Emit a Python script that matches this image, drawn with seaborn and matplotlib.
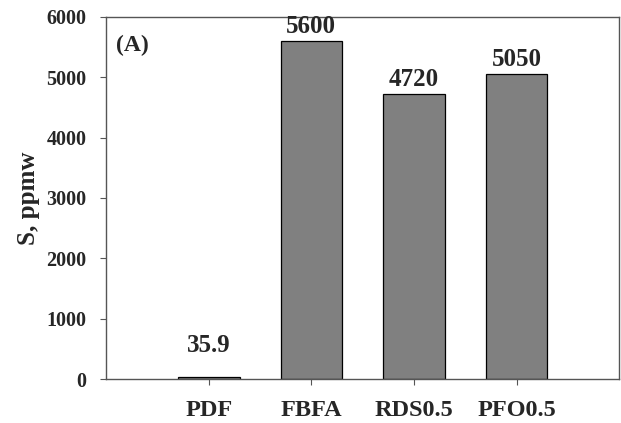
import seaborn as sns
import pandas as pd
import matplotlib.pyplot as plt

# S content of the fuels
samples = ["PDF", "FBFA", "RDS0.5", "PFO0.5"]
sulfur = [35.9, 5600, 4720, 5050]
value_text = ["35.9", "5600", "4720", "5050"]

df = pd.DataFrame({"sample": samples, "S": sulfur})

sns.set_style("ticks")
plt.rcParams["font.family"] = ["Liberation Serif", "DejaVu Serif"]
plt.rcParams["font.weight"] = "bold"

fig = plt.figure(figsize=(6.21, 4.23), dpi=100)
ax = fig.add_axes([0.171, 0.104, 0.826, 0.856])

sns.barplot(df, x="sample", y="S", order=samples, color="#808080",
            saturation=1, width=0.6, edgecolor="black", linewidth=0.9, ax=ax)

# big bars: label just above; the tiny PDF bar gets its label lifted higher
big = [t if v > 1000 else "" for t, v in zip(value_text, sulfur)]
small = [t if v <= 1000 else "" for t, v in zip(value_text, sulfur)]
ax.bar_label(ax.containers[0], labels=big, padding=2,
             fontsize=18, fontweight="bold")
ax.bar_label(ax.containers[0], labels=small, padding=14,
             fontsize=18, fontweight="bold")

ax.set_xlim(-1, 4)
ax.set_ylim(0, 6000)
ax.set_yticks(range(0, 6001, 1000))
ax.set_xlabel("")
ax.set_ylabel("S, ppmw", fontsize=18, fontweight="bold", labelpad=5)
ax.tick_params(axis="y", labelsize=14.5, length=4, pad=10, color="#555555")
ax.tick_params(axis="x", labelsize=17.5, length=4, pad=11, color="#555555")
for lab in ax.get_xticklabels() + ax.get_yticklabels():
    lab.set_fontweight("bold")

for sp in ax.spines.values():
    sp.set_visible(True)
    sp.set_color("#555555")
    sp.set_linewidth(1)

ax.text(0.02, 0.95, "(A)", transform=ax.transAxes, fontsize=17,
        fontweight="bold", va="top", ha="left")

fig.savefig("out.png", dpi=100)
